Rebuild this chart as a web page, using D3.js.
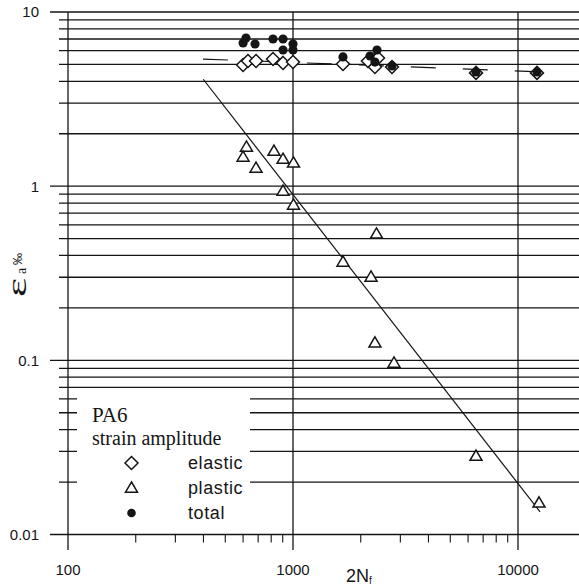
<!DOCTYPE html>
<html><head><meta charset="utf-8">
<script src="https://cdn.jsdelivr.net/npm/d3@7"></script>
<style>html,body{margin:0;padding:0;background:#fff;}svg{display:block;}</style>
</head><body>
<script>
// ---- data ----
const elasticN = [600, 631, 685, 815, 903, 1000, 1668, 2154, 2387, 2313, 2754, 6506, 12140];
const elasticE = [4.96, 5.23, 5.23, 5.37, 5.10, 5.16, 5.03, 5.23, 5.45, 4.83, 4.83, 4.47, 4.47];
const plasticN = [621, 600, 685, 823, 903, 1005, 903, 1005, 1668, 2222, 2350, 2313, 2811, 6506, 12400];
const plasticE = [1.68, 1.47, 1.27, 1.59, 1.43, 1.36, 0.938, 0.780, 0.367, 0.301, 0.532, 0.126, 0.0966, 0.0282, 0.0152];
const totalN = [600, 618, 678, 815, 903, 903, 1000, 1000, 1668, 2362, 2200, 2313, 2754, 6506, 12140];
const totalE = [6.64, 7.09, 6.55, 7.0, 7.0, 6.05, 6.55, 6.05, 5.52, 6.05, 5.59, 5.16, 4.90, 4.53, 4.53];
const elasticFitN = [398, 13180];
const elasticFitE = [5.37, 4.52];
const plasticFitN = [399, 12530];
const plasticFitE = [4.11, 0.0135];
const xTickLabels = ["100", "1000", "10000"];
const yTickLabels = ["0.01", "0.1", "1", "10"];
const legendLabels = ["elastic", "plastic", "total"];

const W = 579, H = 588;
const svg = d3.select("body").append("svg").attr("width", W).attr("height", H);
const x = d3.scaleLog().domain([100, 10000]).range([68, 518]);
const y = d3.scaleLog().domain([0.01, 10]).range([534.5, 12]);
const ink = "#151515";

// horizontal grid lines
const yGrid = [];
for (const dec of [0.01, 0.1, 1]) for (let k = 1; k <= 9; k++) yGrid.push(dec * k);
yGrid.push(10);
const isMajor = v => Math.abs(Math.log10(v) - Math.round(Math.log10(v))) < 1e-9;
svg.append("g").selectAll("line").data(yGrid).join("line")
  .attr("x1", d => isMajor(d) ? 50 : 59).attr("x2", W)
  .attr("y1", d => y(d)).attr("y2", d => y(d))
  .attr("stroke", ink).attr("stroke-width", 1.3);

// vertical lines (y axis, 1000, 10000)
svg.append("g").selectAll("line").data([100, 1000, 10000]).join("line")
  .attr("x1", d => x(d)).attr("x2", d => x(d))
  .attr("y1", 12).attr("y2", 550)
  .attr("stroke", ink).attr("stroke-width", 1.3);

// minor x ticks
const xMinor = [];
for (const dec of [100, 1000, 10000]) for (let k = 2; k <= 9; k++) if (x(dec * k) < W) xMinor.push(dec * k);
svg.append("g").selectAll("line").data(xMinor).join("line")
  .attr("x1", d => x(d)).attr("x2", d => x(d))
  .attr("y1", y(0.01)).attr("y2", y(0.01) + 8)
  .attr("stroke", ink).attr("stroke-width", 1.1);

// tick labels
svg.append("g").selectAll("text").data(xTickLabels).join("text")
  .attr("x", d => x(+d)).attr("y", 575).attr("text-anchor", "middle")
  .attr("font-family", "Liberation Sans, Arial, sans-serif").attr("font-size", 15)
  .attr("fill", ink).text(d => d);
svg.append("g").selectAll("text").data(yTickLabels).join("text")
  .attr("x", 39).attr("y", d => y(+d)).attr("dy", "0.36em").attr("text-anchor", "end")
  .attr("font-family", "Liberation Sans, Arial, sans-serif").attr("font-size", 15)
  .attr("fill", ink).text(d => d);

// axis titles
const xt = svg.append("text").attr("x", 346).attr("y", 582)
  .attr("font-family", "Liberation Sans, Arial, sans-serif").attr("font-size", 18).attr("fill", ink);
xt.append("tspan").text("2N");
xt.append("tspan").attr("font-size", 10).attr("dy", 2).text("f");

const yt = svg.append("g").attr("transform", "translate(26,297) rotate(-90)");
yt.append("text").attr("x", 0).attr("y", 0).attr("transform", "scale(1.9,1.15)")
  .attr("font-family", "Liberation Serif, Times New Roman, serif").attr("font-size", 24)
  .attr("fill", ink).text("ε");
yt.append("text").attr("x", 23).attr("y", 0)
  .attr("font-family", "Liberation Serif, Times New Roman, serif").attr("font-size", 14)
  .attr("fill", ink).text("a");
yt.append("text").attr("x", 32).attr("y", -4)
  .attr("font-family", "Liberation Sans, Arial, sans-serif").attr("font-size", 12)
  .attr("fill", ink).text("‰");

// legend background box (covers grid)
svg.append("rect").attr("x", 77).attr("y", 393).attr("width", 173).attr("height", 140).attr("fill", "#fff");

// fit lines
const line = d3.line().x(d => x(d[0])).y(d => y(d[1]));
svg.append("path").datum(elasticFitN.map((n, i) => [n, elasticFitE[i]]))
  .attr("d", line).attr("fill", "none").attr("stroke", ink).attr("stroke-width", 1.2)
  .attr("stroke-dasharray", "25,27");
svg.append("path").datum(plasticFitN.map((n, i) => [n, plasticFitE[i]]))
  .attr("d", line).attr("fill", "none").attr("stroke", ink).attr("stroke-width", 1.2);

// markers
const diamond = "M0,-6.5L6.5,0L0,6.5L-6.5,0Z";
const tri = "M0,-6L6,4.2L-6,4.2Z";
svg.append("g").selectAll("path").data(elasticN.map((n, i) => [n, elasticE[i]])).join("path")
  .attr("d", diamond).attr("transform", d => `translate(${x(d[0])},${y(d[1])})`)
  .attr("fill", "#fff").attr("stroke", ink).attr("stroke-width", 1.5);
svg.append("g").selectAll("path").data(plasticN.map((n, i) => [n, plasticE[i]])).join("path")
  .attr("d", tri).attr("transform", d => `translate(${x(d[0])},${y(d[1])})`)
  .attr("fill", "#fff").attr("stroke", ink).attr("stroke-width", 1.5);
svg.append("g").selectAll("circle").data(totalN.map((n, i) => [n, totalE[i]])).join("circle")
  .attr("cx", d => x(d[0])).attr("cy", d => y(d[1])).attr("r", 4.6).attr("fill", ink);

// legend
const serif = "Liberation Serif, Times New Roman, serif";
svg.append("text").attr("x", 92).attr("y", 422).attr("font-family", serif).attr("font-size", 21)
  .attr("fill", ink).text("PA6");
svg.append("text").attr("x", 92).attr("y", 445).attr("font-family", serif).attr("font-size", 20)
  .attr("fill", ink).text("strain amplitude");
const lg = svg.append("g");
const lgY = [463, 488, 513];
lg.append("path").attr("d", diamond).attr("transform", `translate(131.5,${lgY[0]})`)
  .attr("fill", "#fff").attr("stroke", ink).attr("stroke-width", 1.5);
lg.append("path").attr("d", tri).attr("transform", `translate(131.5,${lgY[1]})`)
  .attr("fill", "#fff").attr("stroke", ink).attr("stroke-width", 1.5);
lg.append("circle").attr("cx", 131.5).attr("cy", lgY[2]).attr("r", 4.3).attr("fill", ink);
lg.selectAll("text").data(legendLabels).join("text")
  .attr("x", 188).attr("y", (d, i) => lgY[i] + 6)
  .attr("font-family", "Liberation Sans, Arial, sans-serif").attr("font-size", 18)
  .attr("letter-spacing", 0.6).attr("fill", ink).text(d => d);
</script>
</body></html>
